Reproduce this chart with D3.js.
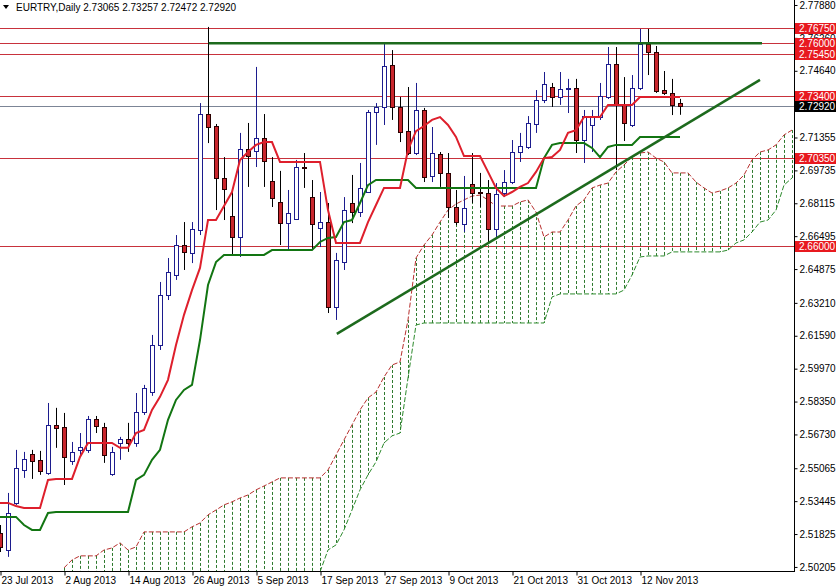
<!DOCTYPE html>
<html><head><meta charset="utf-8">
<script src="https://cdn.jsdelivr.net/npm/d3@7"></script>
<style>
html,body{margin:0;padding:0;background:#fff;overflow:hidden;}
svg{display:block;font-family:"Liberation Sans",Arial,sans-serif;}
</style></head><body>
<svg id="c" width="836" height="586"></svg>
<script>
// ---------------- data ----------------
const symbolTitle = "EURTRY,Daily";
const lastQuote = [2.73065, 2.73257, 2.72472, 2.72920];

const opens  = [2.5188,2.5104,2.5336,2.5498,2.5577,2.5548,2.5483,2.5720,2.5710,2.5543,
                2.5597,2.5597,2.5749,2.5710,2.5479,2.5631,2.5651,2.5631,2.5784,2.5882,
                2.6114,2.6360,2.6458,2.6606,2.6567,2.6680,2.7251,2.7192,2.6936,2.6749,
                2.6645,2.7079,2.7069,2.7133,2.6921,2.6818,2.6714,2.6734,2.6990,2.6842,
                2.6690,2.6719,2.6301,2.6522,2.6813,2.6768,2.6867,2.7261,2.7286,2.7492,
                2.7286,2.7167,2.7059,2.7271,2.6946,2.7054,2.6961,2.6793,2.6709,2.6906,
                2.6867,2.6862,2.6685,2.6862,2.6916,2.7064,2.7089,2.7202,2.7320,2.7384,
                2.7335,2.7374,2.7379,2.7123,2.7197,2.7236,2.7335,2.7497,2.7296,2.7197,
                2.7379,2.7596,2.7557,2.7369,2.7355,2.73065];
const highs  = [2.5227,2.5385,2.5597,2.5587,2.5597,2.5592,2.5828,2.5804,2.5779,2.5636,
                2.5680,2.5764,2.5764,2.5730,2.5612,2.5661,2.5730,2.5877,2.5917,2.6163,
                2.6424,2.6542,2.6655,2.6719,2.6719,2.7305,2.7680,2.7202,2.7039,2.6877,
                2.7158,2.7207,2.7483,2.7251,2.7039,2.6971,2.6877,2.7025,2.7059,2.6926,
                2.6867,2.6813,2.6567,2.6842,2.6951,2.7010,2.7271,2.7305,2.7601,2.7566,
                2.7335,2.7384,2.7404,2.7281,2.7187,2.7064,2.7059,2.6877,2.6946,2.7059,
                2.6961,2.6926,2.6911,2.6975,2.7123,2.7158,2.7241,2.7369,2.7458,2.7404,
                2.7458,2.7424,2.7424,2.7271,2.7271,2.7404,2.7581,2.7581,2.7433,2.7443,
                2.7670,2.7670,2.7586,2.7463,2.7424,2.73257];
const lows   = [2.5094,2.5070,2.5326,2.5459,2.5454,2.5474,2.5474,2.5607,2.5424,2.5523,
                2.5572,2.5582,2.5680,2.5533,2.5469,2.5548,2.5587,2.5612,2.5769,2.5863,
                2.6089,2.6335,2.6434,2.6483,2.6517,2.6655,2.7108,2.6778,2.6729,2.6557,
                2.6547,2.6892,2.6990,2.6892,2.6793,2.6606,2.6581,2.6729,2.6887,2.6581,
                2.6596,2.6271,2.6237,2.6483,2.6714,2.6744,2.6862,2.7099,2.7197,2.7222,
                2.7113,2.7049,2.7049,2.6916,2.6916,2.6892,2.6739,2.6704,2.6670,2.6813,
                2.6793,2.6621,2.6645,2.6842,2.6906,2.7015,2.7079,2.7158,2.7305,2.7286,
                2.7296,2.7256,2.7059,2.7010,2.7064,2.7222,2.7325,2.6975,2.7118,2.7187,
                2.7369,2.7443,2.7355,2.7345,2.7246,2.72472];
const closes = [2.5119,2.5286,2.5508,2.5552,2.5543,2.5493,2.5720,2.5705,2.5562,2.5587,
                2.5612,2.5749,2.5715,2.5572,2.5587,2.5651,2.5631,2.5784,2.5902,2.6114,
                2.6360,2.6473,2.6606,2.6572,2.6685,2.7251,2.7187,2.6936,2.6882,2.6645,
                2.7079,2.7044,2.7133,2.7020,2.6837,2.6714,2.6764,2.6990,2.6985,2.6709,
                2.6719,2.6301,2.6532,2.6778,2.6768,2.6887,2.7261,2.7286,2.7488,2.7286,
                2.7162,2.7059,2.7271,2.6941,2.7059,2.6961,2.6793,2.6719,2.6788,2.6862,
                2.6862,2.6685,2.6857,2.6916,2.7064,2.7094,2.7207,2.7320,2.7399,2.7335,
                2.7374,2.7379,2.7123,2.7241,2.7236,2.7340,2.7497,2.7296,2.7207,2.7379,
                2.7596,2.7557,2.7364,2.7355,2.7296,2.72920];

const tenkan = [2.5336,2.5336,2.5321,2.5311,2.5311,2.5311,2.5449,2.5454,2.5454,2.5454,
                2.5562,2.5631,2.5631,2.5631,2.5631,2.5607,2.5607,2.5680,2.5695,2.5794,
                2.5858,2.5942,2.6114,2.6262,2.6384,2.6493,2.6729,2.6729,2.6798,2.6867,
                2.7025,2.7064,2.7099,2.7113,2.7113,2.7015,2.7015,2.7015,2.7015,2.7015,
                2.7015,2.6778,2.6616,2.6616,2.6616,2.6616,2.6719,2.6803,2.6887,2.6887,
                2.6887,2.7074,2.7167,2.7192,2.7222,2.7236,2.7197,2.7138,2.7044,2.7044,
                2.7044,2.6966,2.6887,2.6847,2.6867,2.6892,2.6911,2.6966,2.7034,2.7039,
                2.7074,2.7158,2.7172,2.7236,2.7236,2.7236,2.7296,2.7296,2.7296,2.7296,
                2.7335,2.7335,2.7335,2.7335,2.7335,2.7335];
const kijun  = [2.5267,2.5267,2.5267,2.5227,2.5203,2.5203,2.5286,2.5291,2.5291,2.5291,
                2.5291,2.5291,2.5291,2.5291,2.5291,2.5291,2.5291,2.5449,2.5474,2.5548,
                2.5597,2.5745,2.5843,2.5892,2.5917,2.6138,2.6409,2.6522,2.6557,2.6557,
                2.6557,2.6557,2.6557,2.6557,2.6581,2.6581,2.6581,2.6581,2.6581,2.6581,
                2.6621,2.6641,2.6645,2.6719,2.6729,2.6813,2.6901,2.6926,2.6926,2.6926,
                2.6926,2.6926,2.6887,2.6887,2.6887,2.6887,2.6887,2.6887,2.6887,2.6887,
                2.6887,2.6887,2.6887,2.6887,2.6887,2.6887,2.6887,2.6887,2.7034,2.7099,
                2.7108,2.7108,2.7108,2.7108,2.7084,2.7039,2.7089,2.7099,2.7099,2.7099,
                2.7138,2.7138,2.7138,2.7138,2.7138,2.7138];

// Senkou spans, first value belongs to bar index spanStart
const spanStart = 8;
const senkouA = [2.5016,2.5055,2.5075,2.5075,2.5075,2.5104,2.5114,2.5139,2.5104,2.5119,
                 2.5193,2.5193,2.5193,2.5193,2.5193,2.5193,2.5218,2.5237,2.5277,2.5301,
                 2.5326,2.5341,2.5360,2.5375,2.5400,2.5419,2.5439,2.5459,2.5459,2.5459,
                 2.5459,2.5459,2.5459,2.5498,2.5572,2.5646,2.5720,2.5794,2.5853,2.5882,
                 2.5956,2.6015,2.6030,2.6237,2.6542,2.6606,2.6655,2.6719,2.6778,2.6808,
                 2.6828,2.6847,2.6852,2.6828,2.6798,2.6798,2.6798,2.6818,2.6828,2.6768,
                 2.6645,2.6670,2.6670,2.6729,2.6798,2.6828,2.6887,2.6901,2.6911,2.6966,
                 2.7000,2.7039,2.7059,2.7064,2.7034,2.7015,2.6961,2.6961,2.6961,2.6916,
                 2.6887,2.6862,2.6872,2.6887,2.6911,2.6951,2.7025,2.7064,2.7074,2.7099,
                 2.7148,2.7172];
const senkouB = [2.4960,2.4960,2.4960,2.4960,2.4960,2.4960,2.4960,2.4960,2.4960,2.4960,
                 2.4960,2.4960,2.4960,2.4960,2.4960,2.4960,2.4960,2.4960,2.4960,2.4960,
                 2.4960,2.4960,2.4960,2.4960,2.4960,2.4960,2.4960,2.4960,2.4960,2.4960,
                 2.4960,2.4960,2.4996,2.5104,2.5129,2.5203,2.5301,2.5400,2.5474,2.5538,
                 2.5631,2.5666,2.5680,2.5951,2.6212,2.6222,2.6222,2.6222,2.6222,2.6222,
                 2.6222,2.6222,2.6222,2.6222,2.6222,2.6222,2.6222,2.6222,2.6222,2.6222,
                 2.6222,2.6350,2.6365,2.6365,2.6365,2.6365,2.6365,2.6365,2.6365,2.6365,
                 2.6384,2.6458,2.6547,2.6552,2.6552,2.6552,2.6572,2.6572,2.6572,2.6572,
                 2.6572,2.6572,2.6572,2.6581,2.6616,2.6631,2.6670,2.6719,2.6729,2.6778,
                 2.6901,2.6936];

const levelPrices = [2.76750, 2.76000, 2.75450, 2.73400, 2.70350, 2.66000];
const bidPrice = 2.72920;
const resistanceLine = {fromBar: 26.1, toBar: 95.25, price: 2.7600};
const trendLine = {bar1: 42.1, price1: 2.6168, bar2: 95.0, price2: 2.7419};

const yTickValues = [2.77880, 2.76260, 2.74640, 2.71355, 2.69735, 2.68115, 2.66495, 2.64875,
                     2.63210, 2.61590, 2.59970, 2.58350, 2.56730, 2.55065, 2.53445, 2.51825, 2.50205];
const xTickBars = [0, 8, 16, 24, 32, 40, 48, 56, 64, 72, 80];
const xTickLabels = ["23 Jul 2013","2 Aug 2013","14 Aug 2013","26 Aug 2013","5 Sep 2013",
                     "17 Sep 2013","27 Sep 2013","9 Oct 2013","21 Oct 2013","31 Oct 2013","12 Nov 2013"];

// ---------------- drawing ----------------
const W = 794, H = 571;
const svg = d3.select("#c");
const x = d3.scaleLinear().domain([0, 99.25]).range([0, W]);
const y = d3.scaleLinear().domain([2.50005, 2.78126]).range([H, 0]);
const px = v => Math.round(x(v)) + 0.5;
const py = v => Math.round(y(v)) + 0.5;

svg.append("defs").append("clipPath").attr("id","plot")
  .append("rect").attr("x",0).attr("y",0).attr("width",W).attr("height",H);
const g = svg.append("g").attr("clip-path","url(#plot)");

// horizontal red levels
g.selectAll("line.lvl").data(levelPrices).join("line")
  .attr("x1",0).attr("x2",W).attr("y1",d=>py(d)).attr("y2",d=>py(d))
  .attr("stroke","#c8323c").attr("stroke-width",1);
// bid line
g.append("line").attr("x1",0).attr("x2",W).attr("y1",py(bidPrice)).attr("y2",py(bidPrice))
  .attr("stroke","#7c8596").attr("stroke-width",1);

// cloud hatch
const cloud = senkouA.map((a,k)=>({i:spanStart+k, a, b:senkouB[k]}));
g.selectAll("line.hatch").data(cloud).join("line")
  .attr("x1",d=>px(d.i)).attr("x2",d=>px(d.i))
  .attr("y1",d=>y(d.a)).attr("y2",d=>y(d.b))
  .attr("stroke","#2f7a2f").attr("stroke-width",1).attr("stroke-dasharray","3,2");
g.append("path").datum(cloud)
  .attr("d", d3.line().x(d=>x(d.i)).y(d=>y(d.a)))
  .attr("fill","none").attr("stroke","#b8312f").attr("stroke-width",1).attr("stroke-dasharray","5,2");
g.append("path").datum(cloud)
  .attr("d", d3.line().x(d=>x(d.i)).y(d=>y(d.b)))
  .attr("fill","none").attr("stroke","#2c8a2c").attr("stroke-width",1).attr("stroke-dasharray","5,2");

// candles
const bars = closes.map((c,i)=>({i, o:opens[i], h:highs[i], l:lows[i], c}));
const cg = g.append("g");
cg.selectAll("line.wick").data(bars).join("line")
  .attr("x1",d=>px(d.i)).attr("x2",d=>px(d.i))
  .attr("y1",d=>y(d.h)).attr("y2",d=>y(d.l))
  .attr("stroke",d=>d.c>=d.o?"#1c1c8e":"#000").attr("stroke-width",1);
cg.selectAll("rect.body").data(bars).join("rect")
  .attr("x",d=>Math.round(x(d.i))-1.5).attr("width",4)
  .attr("y",d=>Math.round(y(Math.max(d.o,d.c)))+0.5)
  .attr("height",d=>Math.max(0.01, Math.round(y(Math.min(d.o,d.c)))-Math.round(y(Math.max(d.o,d.c)))))
  .attr("fill",d=>d.c>=d.o?"#fff":"#c9262c")
  .attr("stroke",d=>d.c>=d.o?"#1c1c8e":"#2a0000").attr("stroke-width",1);

// tenkan / kijun
g.append("path").datum(kijun)
  .attr("d", d3.line().x((d,i)=>x(i)).y(d=>y(d)))
  .attr("fill","none").attr("stroke","#127512").attr("stroke-width",2);
g.append("path").datum(tenkan)
  .attr("d", d3.line().x((d,i)=>x(i)).y(d=>y(d)))
  .attr("fill","none").attr("stroke","#de1f2c").attr("stroke-width",2);

// green resistance line & trend line
g.append("line").attr("x1",x(resistanceLine.fromBar)).attr("x2",x(resistanceLine.toBar))
  .attr("y1",y(resistanceLine.price)).attr("y2",y(resistanceLine.price))
  .attr("stroke","#1d6a1d").attr("stroke-width",2.5);
g.append("line").attr("x1",x(trendLine.bar1)).attr("y1",y(trendLine.price1))
  .attr("x2",x(trendLine.bar2)).attr("y2",y(trendLine.price2))
  .attr("stroke","#1d6a1d").attr("stroke-width",2.5);

// axes
const yAxis = d3.axisRight(y).tickValues(yTickValues).tickSize(3).tickPadding(2)
  .tickFormat(d=>d.toFixed(5));
const ya = svg.append("g").attr("transform",`translate(${W+0.5},0)`).call(yAxis);
ya.select(".domain").remove();
ya.selectAll("text").attr("font-size",10).attr("fill","#000").attr("font-family","Liberation Sans, Arial, sans-serif");
ya.selectAll("line").attr("stroke","#000");

const xAxis = d3.axisBottom(x).tickValues(xTickBars).tickSize(4)
  .tickFormat((d,i)=>xTickLabels[i]);
const xa = svg.append("g").attr("transform",`translate(0,${H+0.5})`).call(xAxis);
xa.select(".domain").remove();
xa.selectAll(".tick line").attr("transform","translate(0.5,0)").attr("stroke","#000");
xa.selectAll("text").attr("text-anchor","start").attr("dx",1).attr("dy","0.55em")
  .attr("font-size",10).attr("fill","#000").attr("font-family","Liberation Sans, Arial, sans-serif");

// frame lines
svg.append("line").attr("x1",W+0.5).attr("x2",W+0.5).attr("y1",0).attr("y2",H+1).attr("stroke","#000");
svg.append("line").attr("x1",0).attr("x2",W+1).attr("y1",H+0.5).attr("y2",H+0.5).attr("stroke","#000");

// price labels on the axis
const tags = levelPrices.map(p=>({p, bg:"#e8191f"})).concat([{p:bidPrice, bg:"#000"}]);
const tg = svg.append("g");
tg.selectAll("rect").data(tags).join("rect")
  .attr("x",W+1).attr("y",d=>Math.round(y(d.p))-5).attr("width",836-W-1).attr("height",11)
  .attr("fill",d=>d.bg);
tg.selectAll("text").data(tags).join("text")
  .attr("x",W+5).attr("y",d=>Math.round(y(d.p))+4)
  .attr("font-size",10).attr("fill","#fff").text(d=>d.p.toFixed(5));

// title
svg.append("path").attr("d","M3,5 L9,5 L6,9 Z").attr("fill","#000");
svg.append("text").attr("x",16).attr("y",11).attr("font-size",10).attr("fill","#000")
  .text(symbolTitle + "  " + lastQuote.map(v=>v.toFixed(5)).join(" "));
</script>
</body></html>
